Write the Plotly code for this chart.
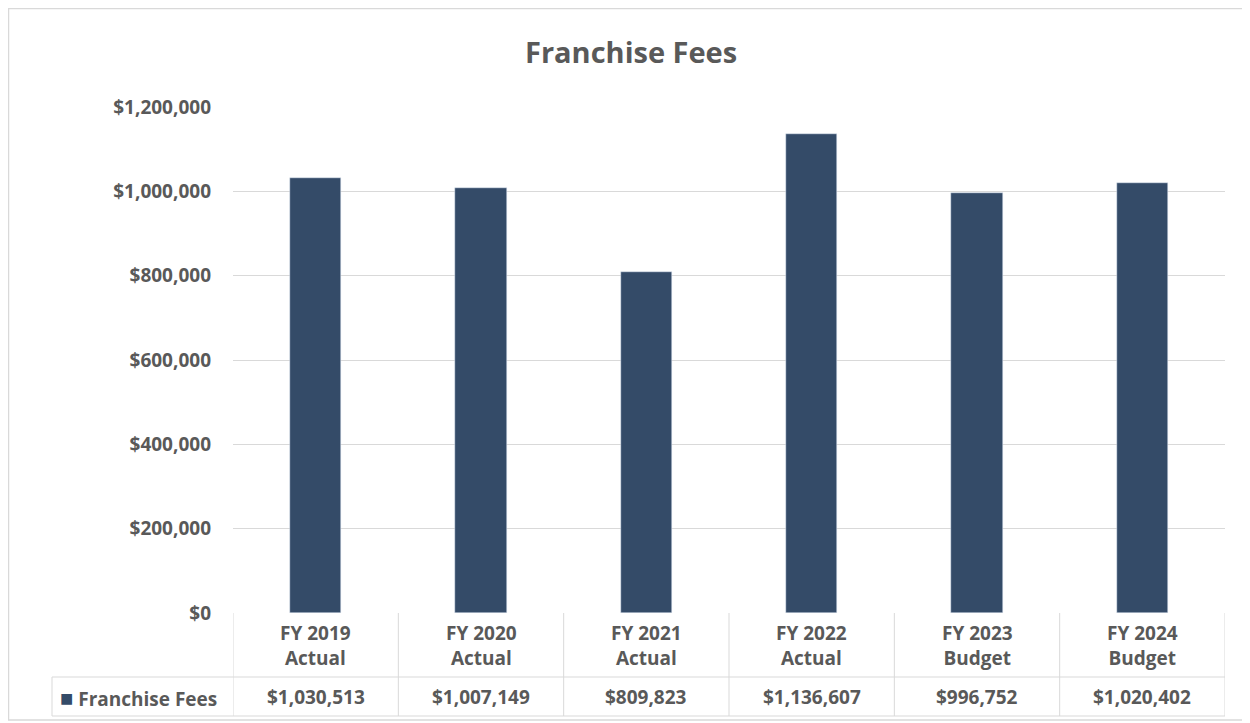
import plotly.graph_objects as go

categories = ["FY 2019<br>Actual", "FY 2020<br>Actual", "FY 2021<br>Actual",
              "FY 2022<br>Actual", "FY 2023<br>Budget", "FY 2024<br>Budget"]
fees = [1030513, 1007149, 809823, 1136607, 996752, 1020402]
series_name = "Franchise Fees"
tick_vals = [0, 200000, 400000, 600000, 800000, 1000000, 1200000]

# page body adds an 8px margin, so the figure is drawn 8px in from the window
OFF = 8
W, H = 1242, 715
L, R, T, B = 225, 25, 99, 110
BAR = "#344B68"
GRID = "#D9D9D9"
TXT = "#595959"
FONT = "Open Sans"


def px(x):
    return (x - OFF - L) / (W - L - R)


def py(y):
    return 1 - (y - OFF - T) / (H - T - B)


fig = go.Figure()
fig.add_trace(go.Bar(x=list(range(len(fees))), y=fees, marker_color=BAR,
                     width=0.31, name=series_name, showlegend=False))

shapes = []
# outer chart border
shapes.append(dict(type="rect", xref="paper", yref="paper", x0=px(8.5), x1=px(1247),
                   y0=py(8.5), y1=py(720), line=dict(color=GRID, width=1.5)))
# data table grid
row_mid, row_bot = py(677), py(716)
shapes.append(dict(type="line", xref="paper", yref="paper", x0=px(52), x1=1,
                   y0=row_mid, y1=row_mid, line=dict(color=GRID, width=1)))
shapes.append(dict(type="line", xref="paper", yref="paper", x0=px(52), x1=1,
                   y0=row_bot, y1=row_bot, line=dict(color=GRID, width=1)))
shapes.append(dict(type="line", xref="paper", yref="paper", x0=px(52), x1=px(52),
                   y0=row_mid, y1=row_bot, line=dict(color=GRID, width=1)))
for i in range(len(fees) + 1):
    shapes.append(dict(type="line", xref="x", yref="paper", x0=i - 0.5, x1=i - 0.5,
                       y0=0, y1=row_bot, line=dict(color=GRID, width=1)))

annotations = [dict(text="<b>Franchise Fees</b>", xref="paper", yref="paper",
                    x=px(631), y=py(52), xanchor="center", yanchor="middle",
                    showarrow=False, font=dict(size=29, color=TXT, family=FONT))]
for i, (c, v) in enumerate(zip(categories, fees)):
    annotations.append(dict(text=f"<b>{c}</b>", xref="x", yref="paper", x=i,
                            y=py(645), xanchor="center", yanchor="middle",
                            showarrow=False,
                            font=dict(size=19, color=TXT, family=FONT)))
    annotations.append(dict(text=f"<b>${v:,}</b>", xref="x", yref="paper", x=i,
                            y=py(697), xanchor="center", yanchor="middle",
                            showarrow=False,
                            font=dict(size=19, color=TXT, family=FONT)))
annotations.append(dict(text=f'<span style="color:{BAR};font-size:22px">■</span> <b>{series_name}</b>',
                        xref="paper", yref="paper", x=px(58), y=py(697),
                        xanchor="left", yanchor="middle", showarrow=False,
                        font=dict(size=19, color=TXT, family=FONT)))

fig.update_layout(
    width=W, height=H,
    margin=dict(l=L, r=R, t=T, b=B),
    plot_bgcolor="white", paper_bgcolor="white",
    bargap=0,
    shapes=shapes, annotations=annotations,
    font=dict(family=FONT, color=TXT),
)
fig.update_xaxes(range=[-0.5, len(fees) - 0.5], showticklabels=False,
                 showgrid=False, zeroline=False)
fig.update_yaxes(range=[0, 1200000], tickvals=tick_vals,
                 ticktext=[f"<b>${v:,}</b>" for v in tick_vals],
                 tickfont=dict(size=19, color=TXT, family=FONT),
                 gridcolor=GRID, zeroline=False, ticks="", ticklabelstandoff=21)

fig.write_html("out.html")
